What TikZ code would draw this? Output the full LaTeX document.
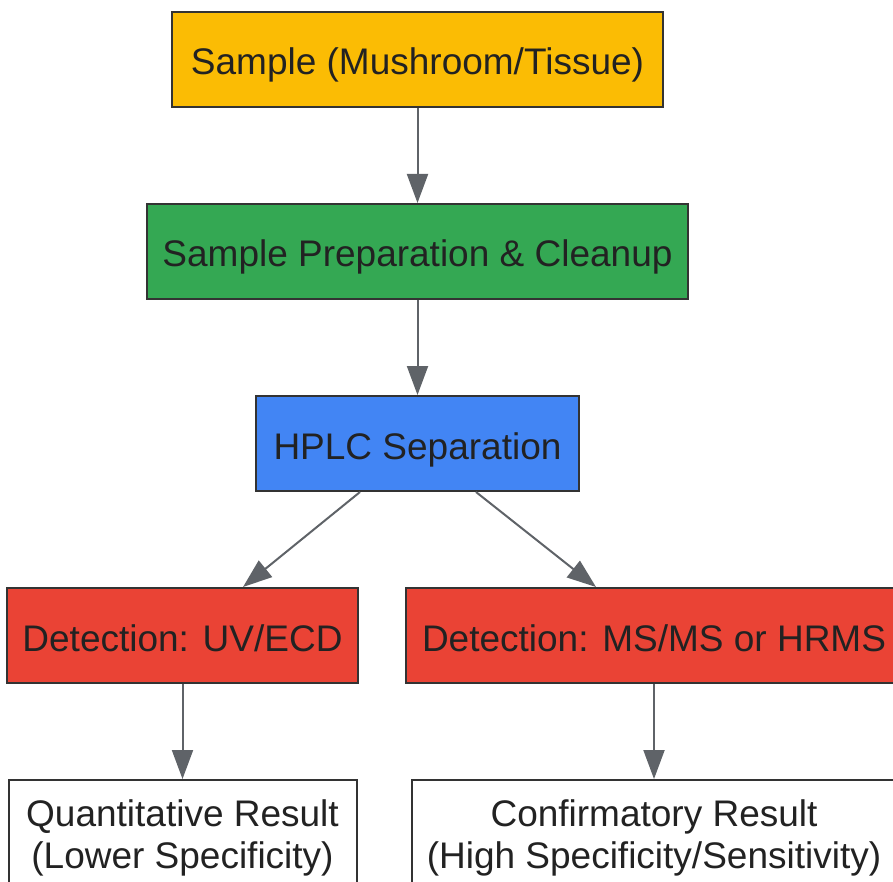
\documentclass[tikz,border=0pt]{standalone}
\usepackage{fontspec}
\setmainfont{Liberation Sans}
\usetikzlibrary{arrows.meta}
\definecolor{boxline}{HTML}{333333}
\definecolor{arrowgrey}{HTML}{5F6368}
\definecolor{textdark}{HTML}{222222}
\definecolor{sampleyellow}{HTML}{FBBC04}
\definecolor{prepgreen}{HTML}{34A853}
\definecolor{hplcblue}{HTML}{4285F4}
\definecolor{detectred}{HTML}{EA4335}

\begin{document}
\begin{tikzpicture}[x=1pt, y=-1pt, every node/.style={rectangle, draw=boxline, line width=2pt, text=textdark, minimum height=95pt, inner sep=0pt, align=center, font=\fontsize{37}{42}\selectfont}]
	\tikzset{flow/.style={draw=arrowgrey, line width=2pt, -{Triangle[length=29pt,width=21pt]}},
		oneline/.style={text height=31pt, text depth=0pt}}
	\useasboundingbox (0,0) rectangle (893,882);
	\node[oneline, fill=sampleyellow, minimum width=491pt] (n1) at (417.5,59.5)  {Sample (Mushroom/Tissue)};
	\node[oneline, fill=prepgreen, minimum width=541pt]    (n2) at (417.5,251.5) {Sample Preparation \& Cleanup};
	\node[oneline, fill=hplcblue, minimum width=323pt]     (n3) at (417.5,443.5) {HPLC Separation};
	\node[oneline, fill=detectred, minimum width=351pt]    (n4) at (182.5,635.5) {Detection: UV/ECD};
	\node[oneline, fill=detectred, minimum width=496pt]    (n5) at (654,635.5)   {Detection: MS/MS or HRMS};
	\node[fill=white, minimum width=348pt, minimum height=116pt] (n6) at (182.5,838) {Quantitative Result\\(Lower Specificity)};
	\node[fill=white, minimum width=485pt, minimum height=116pt] (n7) at (654,838)   {Confirmatory Result\\(High Specificity/Sensitivity)};
	\coordinate (n3l) at ([xshift=-57.5pt]n3.south);
	\coordinate (n3r) at ([xshift=58.5pt]n3.south);
	\coordinate (n4t) at ([xshift=60.5pt]n4.north);
	\coordinate (n5t) at ([xshift=-58pt]n5.north);
	\foreach \from/\to in {
		n1.south/n2.north, n2.south/n3.north,
		n3l/n4t, n3r/n5t,
		n4.south/n6.north, n5.south/n7.north}
	\draw[flow] (\from) -- (\to);
\end{tikzpicture}
\end{document}
